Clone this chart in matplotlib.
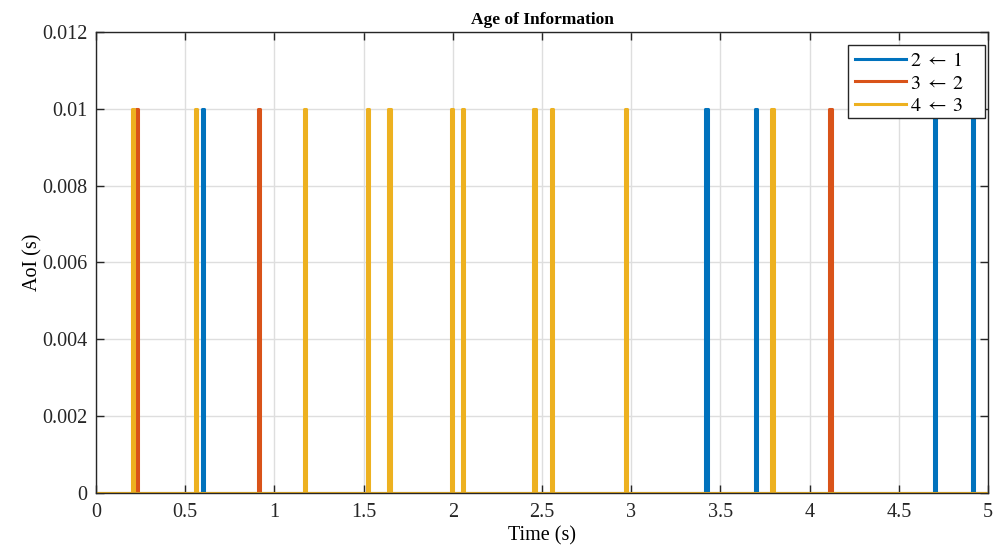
import numpy as np
import matplotlib.pyplot as plt
from matplotlib.patches import Rectangle

plt.rcParams['font.family'] = ['Liberation Serif', 'DejaVu Serif']
plt.rcParams['mathtext.fontset'] = 'stix'

# spike times (s) for each link, AoI peak value (s)
t_end = 5.0
pulse_w = 0.014
peak_aoi = 0.01
times_21 = [0.594, 3.414, 3.694, 4.697, 4.91]
times_32 = [0.224, 0.908, 4.109]
times_43 = [0.200, 0.555, 1.166, 1.519, 1.637, 1.990, 2.050, 2.450, 2.550,
            2.965, 3.784]
labels = [r'$2 \;\leftarrow\; 1$', r'$3 \;\leftarrow\; 2$', r'$4 \;\leftarrow\; 3$']
colors = ['#0072BD', '#D95319', '#EDB120']


def pulse_train(times):
    t = [0.0]
    a = [0.0]
    for s in times:
        t += [s, s, s + pulse_w, s + pulse_w]
        a += [0.0, peak_aoi, peak_aoi, 0.0]
    t.append(t_end)
    a.append(0.0)
    return np.array(t), np.array(a)


fig = plt.figure(figsize=(10.07, 5.51), dpi=100)
ax = fig.add_axes([0.0953, 0.1053, 0.8858, 0.8367])

for times, lab, c in zip([times_21, times_32, times_43], labels, colors):
    t, a = pulse_train(times)
    ax.plot(t, a, color=c, lw=2.2, label=lab)

ax.set_xlim(0, 5)
ax.set_ylim(0, 0.012)
ax.set_xticks(np.arange(0, 5.01, 0.5))
ax.set_xticklabels(['0', '0.5', '1', '1.5', '2', '2.5', '3', '3.5', '4', '4.5', '5'])
ax.set_yticks(np.arange(0, 0.0121, 0.002))
ax.set_yticklabels(['0', '0.002', '0.004', '0.006', '0.008', '0.01', '0.012'])
ax.grid(True, color='#dedede', lw=1.0)
ax.set_axisbelow(True)
ax.tick_params(direction='in', length=6, width=1, labelsize=14.5,
               top=True, right=True, colors='#262626')
ax.tick_params(axis='x', pad=7)
ax.tick_params(axis='y', pad=6)
for s in ax.spines.values():
    s.set_color('#262626')
    s.set_linewidth(1.0)

ax.set_title('Age of Information', fontsize=12.5, fontweight='bold', pad=6)
ax.set_xlabel('Time (s)', fontsize=14.5, labelpad=3)
ax.set_ylabel('AoI (s)', fontsize=14.5, labelpad=0)

# legend box is drawn separately so it can keep the wider right margin
box = Rectangle((0.843, 0.813), 0.1536, 0.159, transform=ax.transAxes,
                facecolor='white', edgecolor='#262626', lw=1.0, zorder=4.9,
                clip_on=False)
ax.add_patch(box)
leg = ax.legend(loc='upper left', fontsize=14.5, frameon=False,
                handlelength=2.5, borderaxespad=0.0, handletextpad=0.2,
                labelspacing=0.16, borderpad=0.36,
                bbox_to_anchor=(0.843, 0.972))

fig.savefig('out.png', dpi=100)
